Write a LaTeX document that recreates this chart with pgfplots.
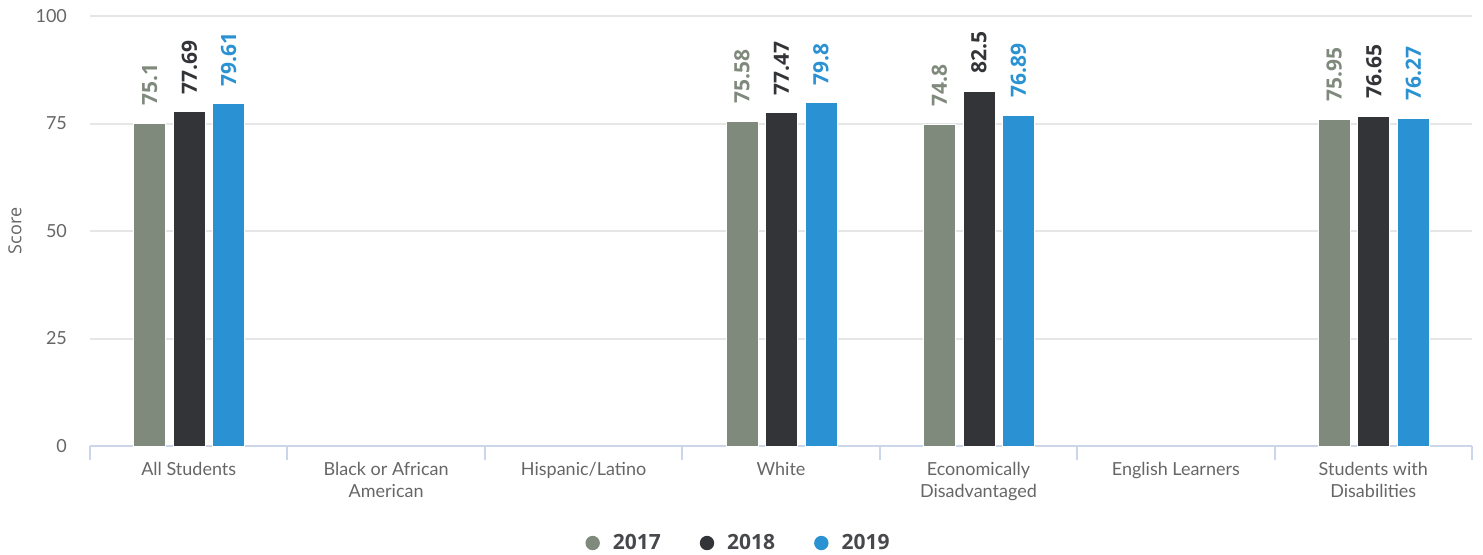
\documentclass[border=0pt]{standalone}
\usepackage{fontspec}
\setmainfont{Lato}
\newfontfamily\osans{Open Sans}
\usepackage{pgfplots}
\pgfplotsset{compat=1.18}
\definecolor{cA}{HTML}{7F8A7C}
\definecolor{cB}{HTML}{333438}
\definecolor{cC}{HTML}{2A92D2}
\definecolor{gridc}{HTML}{E6E6E6}
\definecolor{axc}{HTML}{CCD6EB}
\definecolor{labc}{HTML}{666666}
\newcommand{\dlfont}{\osans\bfseries\fontsize{10.5}{12}\selectfont}
\begin{document}
\begin{tikzpicture}
\begin{axis}[
  width=691pt, height=215pt, scale only axis,
  xmin=-0.5, xmax=6.5, ymin=0, ymax=100,
  clip=false,
  axis line style={draw=none},
  ytick={0,25,50,75,100},
  ymajorgrids,
  grid style={draw=gridc, line width=1pt},
  extra y ticks={0},
  extra y tick labels={},
  extra y tick style={grid style={draw=axc, line width=1pt}},
  xtick={0,1,2,3,4,5,6},
  xticklabels={All Students, Black or African\\American, Hispanic/Latino, White, Economically\\Disadvantaged, English Learners, Students with\\Disabilities},
  minor xtick={-0.5,0.5,1.5,2.5,3.5,4.5,5.5,6.5},
  major tick length=0pt,
  minor tick length=7pt,
  tick align=outside,
  xtick pos=bottom, ytick pos=left,
  minor tick style={draw=axc, line width=1pt},
  major tick style={draw=none},
  /pgf/number format/assume math mode=true,
  xticklabel style={align=center, font=\fontsize{9}{11}\selectfont, text=labc, yshift=-4.5pt},
  yticklabel style={font=\fontsize{9}{11}\selectfont, text=labc, xshift=-8pt},
  ylabel={Score},
  every axis y label/.style={at={(axis description cs:0,0.5)}, xshift=-37.5pt, rotate=90, anchor=center, font=\osans\fontsize{9}{11}\selectfont, text=labc},
  ybar, bar width=16pt,
  point meta=explicit symbolic,
  nodes near coords={\dlfont\pgfplotspointmeta},
  every node near coord/.append style={rotate=90, anchor=west, inner xsep=8.5pt, inner ysep=0pt},
  legend columns=3,
  legend style={at={(0.4685,-0.2256)}, anchor=center, draw=none, fill=none,
    font=\osans\bfseries\fontsize{10.5}{12}\selectfont, text=cB!90!white,
    nodes={inner sep=0pt},
    /tikz/every odd column/.append style={column sep=6.5pt},
    /tikz/every even column/.append style={column sep=19.5pt}},
  legend image code/.code={\fill[#1,draw=none] (3.5pt,0pt) circle (3.6pt);},
]
\addplot[fill=cA, draw=white, line width=0.5pt, bar shift=-19.5pt, every node near coord/.append style={text=cA}]
  coordinates {(0,75.1) [75.1] (3,75.58) [75.58] (4,74.8) [74.8] (6,75.95) [75.95]};
\addplot[fill=cB, draw=white, line width=0.5pt, bar shift=0.3pt, every node near coord/.append style={text=cB}]
  coordinates {(0,77.69) [77.69] (3,77.47) [77.47] (4,82.5) [82.5] (6,76.65) [76.65]};
\addplot[fill=cC, draw=white, line width=0.5pt, bar shift=20pt, every node near coord/.append style={text=cC}]
  coordinates {(0,79.61) [79.61] (3,79.8) [79.8] (4,76.89) [76.89] (6,76.27) [76.27]};
\legend{2017,2018,2019}
\end{axis}
\pgfresetboundingbox
\path (-45pt,-54pt) rectangle (696.5pt,223pt);
\end{tikzpicture}
\end{document}
